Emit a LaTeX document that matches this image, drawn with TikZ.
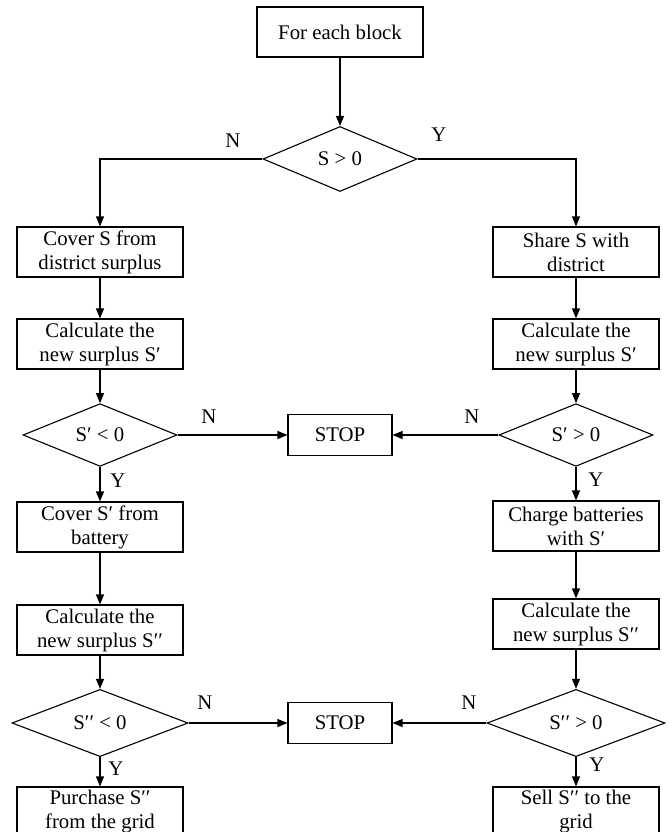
\documentclass[tikz,border=0pt]{standalone}
\usepackage{fontspec}
\setmainfont{Liberation Serif}
\usetikzlibrary{shapes.geometric,arrows.meta}
\begin{document}
\begin{tikzpicture}[x=1bp,y=-1bp,
  every node/.style={font=\fontsize{20.8bp}{24bp}\selectfont, text=black},
  procbox/.style={draw, line width=1.1bp, minimum width=166bp, minimum height=50bp, inner sep=0pt, align=center},
  decbox/.style={draw, diamond, line width=1.1bp, inner sep=0pt, minimum width=154bp, minimum height=50bp},
  stopbox/.style={draw, line width=1.1bp, minimum width=104bp, minimum height=41bp, inner sep=0pt},
  flow/.style={line width=1.1bp, -{Triangle[length=10bp,width=8bp]}},
  lbl/.style={inner sep=0pt}
]
\clip (0,0) rectangle (670,832);
\fill[white] (0,0) rectangle (670,832);

\node[procbox] (start) at (340,32) {For each block};
\node[decbox, minimum height=65bp] (d1) at (340,159) {S > 0};
\node[procbox] (l1) at (100,252) {Cover S from\\district surplus};
\node[procbox] (r1) at (576,252) {Share S with\\district};
\node[procbox] (l2) at (100,344) {Calculate the\\new surplus S′};
\node[procbox] (r2) at (576,344) {Calculate the\\new surplus S′};
\node[decbox] (l3) at (100,435) {S′ < 0};
\node[decbox] (r3) at (576,435) {S′ > 0};
\node[stopbox] (s1) at (340,435) {STOP};
\node[procbox] (l4) at (100,527) {Cover S′ from\\battery};
\node[procbox] (r4) at (576,526) {Charge batteries\\with S′};
\node[procbox] (l5) at (100,630) {Calculate the\\new surplus S′′};
\node[procbox] (r5) at (576,624) {Calculate the\\new surplus S′′};
\node[decbox, minimum width=176bp, minimum height=48bp] (l6) at (100,723) {S′′ < 0};
\node[decbox, minimum width=178bp, minimum height=48bp] (r6) at (576,723) {S′′ > 0};
\node[stopbox] (s2) at (340,723) {STOP};
\node[procbox] (l7) at (100,812) {Purchase S′′\\from the grid};
\node[procbox] (r7) at (576,812) {Sell S′′ to the\\grid};

\node[lbl] (n1) at (233,141) {N};
\node[lbl] (y1) at (439,135) {Y};
\node[lbl] (n2) at (209,417) {N};
\node[lbl] (n3) at (472,417) {N};
\node[lbl] (y2) at (118,481) {Y};
\node[lbl] (y3) at (596,480) {Y};
\node[lbl] (n4) at (205,703) {N};
\node[lbl] (n5) at (469,703) {N};
\node[lbl] (y4) at (116,769) {Y};
\node[lbl] (y5) at (597,765) {Y};

\draw[flow] (start) -- (d1);
\draw[flow] (d1.west) -| (l1.north);
\draw[flow] (d1.east) -| (r1.north);
\draw[flow] (l1) -- (l2);
\draw[flow] (r1) -- (r2);
\draw[flow] (l2) -- (l3);
\draw[flow] (r2) -- (r3);
\draw[flow] (l3.east) -- (s1.west);
\draw[flow] (r3.west) -- (s1.east);
\draw[flow] (l3) -- (l4);
\draw[flow] (r3) -- (r4);
\draw[flow] (l4) -- (l5);
\draw[flow] (r4) -- (r5);
\draw[flow] (l5) -- (l6);
\draw[flow] (r5) -- (r6);
\draw[flow] (l6.east) -- (s2.west);
\draw[flow] (r6.west) -- (s2.east);
\draw[flow] (l6) -- (l7);
\draw[flow] (r6) -- (r7);
\end{tikzpicture}
\end{document}
